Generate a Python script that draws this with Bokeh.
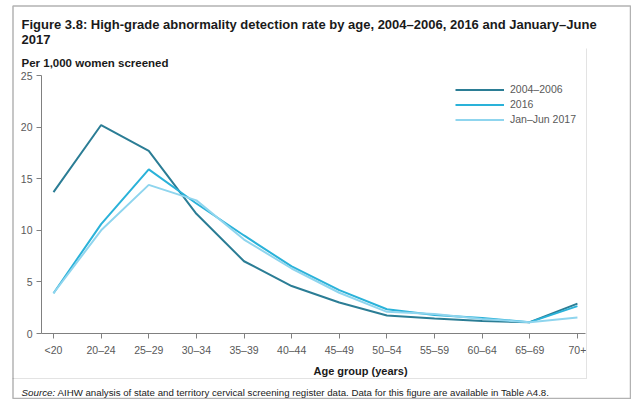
from bokeh.plotting import figure
from bokeh.models import (Range1d, FixedTicker, Label, Legend, LegendItem, BoxAnnotation)
from bokeh.embed import file_html
from bokeh.resources import INLINE

# ---- data ----
age_groups = ["<20", "20\u201324", "25\u201329", "30\u201334", "35\u201339", "40\u201344",
              "45\u201349", "50\u201354", "55\u201359", "60\u201364", "65\u201369", "70+"]
rate_2004_2006 = [13.7, 20.2, 17.7, 11.6, 7.0, 4.6, 3.0, 1.75, 1.45, 1.2, 1.1, 2.9]
rate_2016 = [3.9, 10.6, 15.9, 12.6, 9.5, 6.5, 4.2, 2.35, 1.8, 1.5, 1.1, 2.65]
rate_2017 = [3.9, 10.0, 14.4, 12.9, 9.1, 6.3, 3.95, 2.1, 1.9, 1.4, 1.1, 1.55]
series_names = ["2004\u20132006", "2016", "Jan\u2013Jun 2017"]
y_ticks = [0, 5, 10, 15, 20, 25]

title_1 = "Figure 3.8: High-grade abnormality detection rate by age, 2004\u20132006, 2016 and January\u2013June"
title_2 = "2017"
y_title = "Per 1,000 women screened"
x_title = "Age group (years)"
source_a = "Source:"
source_b = "AIHW analysis of state and territory cervical screening register data. Data for this figure are available in Table A4.8."

colors = ["#2b7d95", "#2ab2d9", "#8fd5ee"]
FONT = "Liberation Sans"
TXT = "#1a1a1a"
GREY = "#595959"

W, H = 631, 399
# pixel geometry of the plotting area (figure pixels)
X0_PX, DX_PX = 53.0, 47.63      # first category position, spacing
Y0_PX, DY_PX = 333.0, 10.32     # y=0 position, px per unit

x_idx = list(range(len(age_groups)))

p = figure(width=W, height=H, output_backend="svg", toolbar_location=None,
           x_range=Range1d(-X0_PX / DX_PX, (W - X0_PX) / DX_PX),
           y_range=Range1d(-(H - Y0_PX) / DY_PX, Y0_PX / DY_PX),
           min_border_left=0, min_border_right=0, min_border_top=0, min_border_bottom=0)
p.title.text = ""
p.outline_line_color = None
p.xgrid.visible = False
p.ygrid.visible = False
p.background_fill_color = "white"
p.border_fill_color = "white"

renderers = []
for vals, c in zip([rate_2004_2006, rate_2016, rate_2017], colors):
    r = p.line(x_idx, vals, line_color=c, line_width=2)
    renderers.append(r)

x_left = (41 - X0_PX) / DX_PX
x_right = (585 - X0_PX) / DX_PX

for ax in (p.xaxis[0], p.yaxis[0]):
    ax.axis_line_color = "#808080"
    ax.axis_line_width = 1
    ax.major_tick_line_color = "#808080"
    ax.major_tick_out = 5
    ax.major_tick_in = 0
    ax.minor_tick_line_color = None
    ax.major_label_text_font = FONT
    ax.major_label_text_font_size = "10.5px"
    ax.major_label_text_color = GREY

p.xaxis.fixed_location = 0
p.xaxis.bounds = (x_left, x_right)
p.xaxis.ticker = FixedTicker(ticks=x_idx)
p.xaxis.major_label_overrides = {i: lab for i, lab in enumerate(age_groups)}
p.xaxis.major_label_standoff = 5
p.yaxis.fixed_location = x_left
p.yaxis.bounds = (0, 25)
p.yaxis.ticker = FixedTicker(ticks=y_ticks)
p.yaxis.major_label_standoff = 4

# legend (location = bottom-left corner, from frame bottom-left)
items = [LegendItem(label=n, renderers=[r]) for n, r in zip(series_names, renderers)]
leg = Legend(items=items, location=(455, H - 126.5), orientation="vertical",
             glyph_width=49, glyph_height=15, label_height=15, label_standoff=6,
             spacing=0, padding=0, margin=0,
             label_text_font=FONT, label_text_font_size="10.5px", label_text_color=GREY,
             background_fill_alpha=0, border_line_color=None)
p.add_layout(leg)


def sy(py):
    return H - py


def lab(text, px, py, size, style="normal", color=TXT, align="left"):
    p.add_layout(Label(x=px, y=sy(py), x_units="screen", y_units="screen", text=text,
                       text_font=FONT, text_font_size=size, text_font_style=style,
                       text_color=color, text_align=align, text_baseline="alphabetic"))


lab(title_1, 21, 24, "13px", "bold")
lab(title_2, 21, 38.5, "13px", "bold")
lab(y_title, 21, 62, "11.5px", "bold")
lab(x_title, 313, 370, "11px", "bold")
lab(source_a, 21, 392, "9.8px", "italic")
lab(source_b, 57, 392, "9.7px", "normal")


def box(l, t, r, b, **kw):
    p.add_layout(BoxAnnotation(left=l, right=r, top=sy(t), bottom=sy(b),
                               left_units="screen", right_units="screen",
                               top_units="screen", bottom_units="screen", **kw))


# light grey chart box (right and bottom edges)
box(585.5, 48, 586.5, 378, fill_color="#e3e3e3", fill_alpha=1, line_color=None)
box(12, 377.5, 586.5, 378.5, fill_color="#e3e3e3", fill_alpha=1, line_color=None)
# outer black border
box(12.5, 5.5, 630, 398, fill_alpha=0, line_color="black", line_width=1.5)

open("out.html", "w").write(file_html(p, INLINE))
